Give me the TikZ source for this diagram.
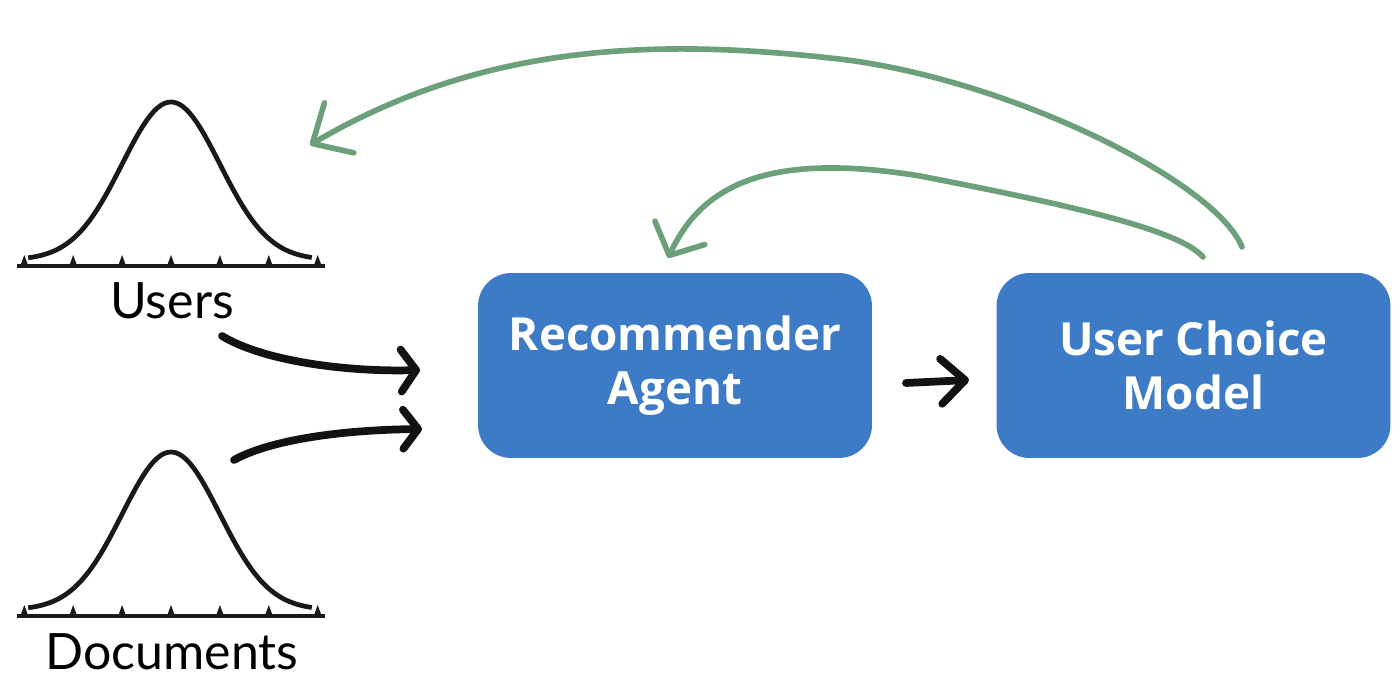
\documentclass[tikz,border=0pt]{standalone}
\usepackage{fontspec}
\setmainfont{Lato}
\newfontfamily\boxfont{Open Sans}
\usetikzlibrary{arrows.meta,positioning}
\definecolor{boxblue}{RGB}{62,123,198}
\definecolor{loopgreen}{RGB}{108,160,122}

\begin{document}
\begin{tikzpicture}[
    x=0.02cm, y=-0.02cm,
    box/.style={rectangle, rounded corners=0.66cm, fill=boxblue, minimum width=7.88cm, minimum height=3.7cm, align=center, text=white, font=\boxfont\bfseries\fontsize{26}{30.5}\selectfont},
    distname/.style={font=\fontsize{28.5}{34}\selectfont, anchor=base},
    bell/.style={line width=2.7pt, black!90},
    inflow/.style={line width=4.4pt, line cap=round, black!93},
    feedback/.style={line width=3.2pt, line cap=round, loopgreen}
]
    \useasboundingbox (0,0) rectangle (1400,692);

    % Distributions
    \foreach \yy in {0,350} {
        \draw[bell] plot[domain=-2.92:2.88, samples=80] ({171+48.9*\x}, {\yy+260-158*exp(-0.5*(\x)*(\x))});
        \draw[line width=2.2pt, black!90] (17,{266+\yy}) -- (325,{266+\yy});
        \foreach \k in {-3,...,3}
            \fill[black!90] ({171+48.9*\k-4},{266+\yy}) -- ({171+48.9*\k},{255+\yy}) -- ({171+48.9*\k+4},{266+\yy}) -- cycle;
    }
    \node[distname] (users) at (172,319) {Users};
    \node[distname] (docs) at (172,669) {Documents};

    % Blocks
    \node[box] (agent) at (675,365.5) {Recommender\\Agent};
    \node[box] (choice) at (1193.5,365.5) {User Choice\\Model};

    % Arrow ends
    \coordinate (usersout) at (222,336);
    \coordinate (docsout) at (234,460);
    \coordinate (agentin1) at (420,370);
    \coordinate (agentin2) at (422,429);
    \coordinate (agentout) at (906,383);
    \coordinate (choicein) at (969,380);
    \coordinate (choicetop1) at (1203,257);
    \coordinate (choicetop2) at (1242,247);
    \coordinate (agenttop) at (668,258);
    \coordinate (userstop) at (310,145);

    % Inputs
    \draw[inflow, -{Straight Barb[length=0.3cm, width=0.84cm, round]}] (usersout) .. controls (265,362) and (350,372) .. (agentin1);
    \draw[inflow, -{Straight Barb[length=0.3cm, width=0.78cm, round]}] (docsout) .. controls (270,440) and (340,430) .. (agentin2);
    \draw[inflow, -{Straight Barb[length=0.48cm, width=0.9cm, round]}] (agentout) -- (choicein);

    % Feedback
    \draw[feedback, -{Straight Barb[length=0.5cm, width=1.1cm, round]}] (choicetop1) .. controls (1180,230) and (1070,205) .. (920,176) .. controls (760,150) and (700,190) .. (agenttop);
    \draw[feedback, -{Straight Barb[length=0.62cm, width=1.16cm, round]}] (choicetop2) .. controls (1215,180) and (1000,75) .. (830,58) .. controls (650,38) and (480,45) .. (userstop);
\end{tikzpicture}
\end{document}
